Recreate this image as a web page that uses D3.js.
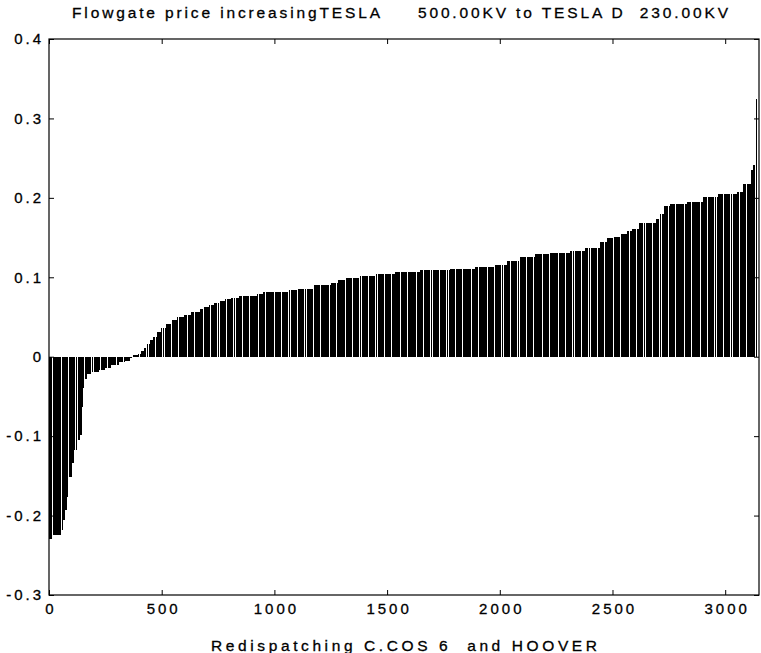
<!DOCTYPE html>
<html>
<head>
<meta charset="utf-8">
<script src="https://cdn.jsdelivr.net/npm/d3@7"></script>
<style>
  html, body { margin: 0; padding: 0; background: #fff; }
  svg { display: block; }
  text { font-family: "Liberation Sans", Arial, Helvetica, sans-serif; fill: #000; stroke: #000; stroke-width: 0.3px; }
</style>
</head>
<body>
<svg id="chart" width="761" height="653"></svg>
<script>
// Sorted flowgate prices, stored as plateaus: each price level and how many
// consecutive redispatch cases share it.
const stepPrices = [
  -0.229, -0.224, -0.218, -0.205, -0.193, -0.176, -0.151, -0.134, -0.117, -0.105,
  -0.098, -0.063, -0.040, -0.028, -0.022, -0.019, -0.017, -0.014, -0.010, -0.007,
  -0.005, -0.002, 0.002, 0.004, 0.007, 0.011, 0.016, 0.021, 0.025, 0.031,
  0.036, 0.041, 0.046, 0.050, 0.053, 0.056, 0.060, 0.063, 0.065, 0.068,
  0.070, 0.073, 0.074, 0.077, 0.079, 0.081, 0.082, 0.084, 0.0855, 0.090,
  0.093, 0.096, 0.099, 0.101, 0.104, 0.107, 0.109, 0.111, 0.113, 0.116,
  0.120, 0.125, 0.129, 0.131, 0.133, 0.137, 0.144, 0.149, 0.151, 0.155,
  0.158, 0.161, 0.168, 0.173, 0.180, 0.190, 0.192, 0.1946, 0.201, 0.2047,
  0.207, 0.217, 0.235, 0.241, 0.252, 0.262, 0.325
];
const stepCounts = [
  13, 40, 9, 9, 7, 11, 11, 11, 13, 14,
  6, 7, 7, 11, 18, 35, 27, 27, 35, 27,
  22, 9, 27, 13, 13, 14, 13, 13, 18, 18,
  22, 22, 27, 31, 31, 40, 18, 22, 22, 23,
  26, 27, 35, 80, 27, 71, 36, 40, 75, 76,
  31, 31, 67, 66, 89, 111, 134, 111, 89, 53,
  58, 67, 66, 89, 67, 66, 32, 31, 31, 26,
  23, 31, 75, 18, 18, 27, 75, 71, 67, 84,
  27, 36, 8, 8, 4, 2, 1
];
const xDomain = [0, 3150];
const yDomain = [-0.3, 0.4];
const xTickValues = [0, 500, 1000, 1500, 2000, 2500, 3000];
const yTickValues = [-0.3, -0.2, -0.1, 0, 0.1, 0.2, 0.3, 0.4];
const yTickLabels = ["-0.3", "-0.2", "-0.1", "0", "0.1", "0.2", "0.3", "0.4"];
const titleText = "Flowgate price increasingTESLA     500.00KV to TESLA D  230.00KV";
const xLabelText = "Redispatching C.COS 6  and HOOVER";

// One bar per redispatch case, numbered from 1.
const prices = stepPrices.flatMap((p, i) => Array(stepCounts[i]).fill(p));
const bars = prices.map((p, i) => ({ index: i + 1, price: p }));

const W = 761, H = 653;
const margin = { top: 39, right: 2, bottom: 58, left: 49 };

const x = d3.scaleLinear().domain(xDomain).range([margin.left, W - margin.right]);
const y = d3.scaleLinear().domain(yDomain).range([H - margin.bottom, margin.top]);
const plotMid = (x.range()[0] + x.range()[1]) / 2;

const svg = d3.select("#chart");

// Bars hanging from zero, slightly narrower than their slot.
const slot = x(1) - x(0);
const barW = slot * 0.85;
svg.append("g")
  .attr("shape-rendering", "crispEdges")
  .selectAll("rect")
  .data(bars)
  .join("rect")
  .attr("x", d => x(d.index) - barW / 2)
  .attr("width", barW)
  .attr("y", d => y(Math.max(0, d.price)))
  .attr("height", d => Math.abs(y(d.price) - y(0)))
  .attr("fill", "#000");

// Box
svg.append("rect")
  .attr("x", x(xDomain[0]))
  .attr("y", y(yDomain[1]))
  .attr("width", x(xDomain[1]) - x(xDomain[0]))
  .attr("height", y(yDomain[0]) - y(yDomain[1]))
  .attr("fill", "none")
  .attr("stroke", "#000")
  .attr("stroke-width", 1.2);

const tickFont = g => g.selectAll("text")
  .attr("font-size", 15)
  .attr("letter-spacing", "3px")
  .attr("fill", "#000");

const cleanDomain = g => g.select(".domain").remove();

// Inward ticks on all four sides, labels on bottom and left.
svg.append("g")
  .attr("transform", `translate(0,${y(yDomain[0])})`)
  .call(d3.axisBottom(x).tickValues(xTickValues).tickFormat(d3.format("d"))
    .tickSizeInner(-5).tickSizeOuter(0).tickPadding(8))
  .call(cleanDomain)
  .call(tickFont)
  .call(g => g.selectAll("text").attr("dx", "1.5px"));

svg.append("g")
  .attr("transform", `translate(0,${y(yDomain[1])})`)
  .call(d3.axisTop(x).tickValues(xTickValues).tickFormat("")
    .tickSizeInner(-5).tickSizeOuter(0))
  .call(cleanDomain);

svg.append("g")
  .attr("transform", `translate(${x(xDomain[0])},0)`)
  .call(d3.axisLeft(y).tickValues(yTickValues)
    .tickFormat((d, i) => yTickLabels[i])
    .tickSizeInner(-5).tickSizeOuter(0).tickPadding(5))
  .call(cleanDomain)
  .call(tickFont);

svg.append("g")
  .attr("transform", `translate(${x(xDomain[1])},0)`)
  .call(d3.axisRight(y).tickValues(yTickValues).tickFormat("")
    .tickSizeInner(-5).tickSizeOuter(0))
  .call(cleanDomain);

svg.selectAll(".tick line").attr("stroke", "#000").attr("stroke-width", 1);

// Title and axis label, both centred over the plot
svg.append("text")
  .attr("x", plotMid - 4)
  .attr("y", 17.5)
  .attr("text-anchor", "middle")
  .attr("font-size", 15.5)
  .attr("textLength", 656)
  .attr("lengthAdjust", "spacing")
  .style("white-space", "pre")
  .text(titleText);

svg.append("text")
  .attr("x", plotMid)
  .attr("y", 651)
  .attr("text-anchor", "middle")
  .attr("font-size", 15.5)
  .attr("textLength", 386)
  .attr("lengthAdjust", "spacing")
  .style("white-space", "pre")
  .text(xLabelText);
</script>
</body>
</html>
